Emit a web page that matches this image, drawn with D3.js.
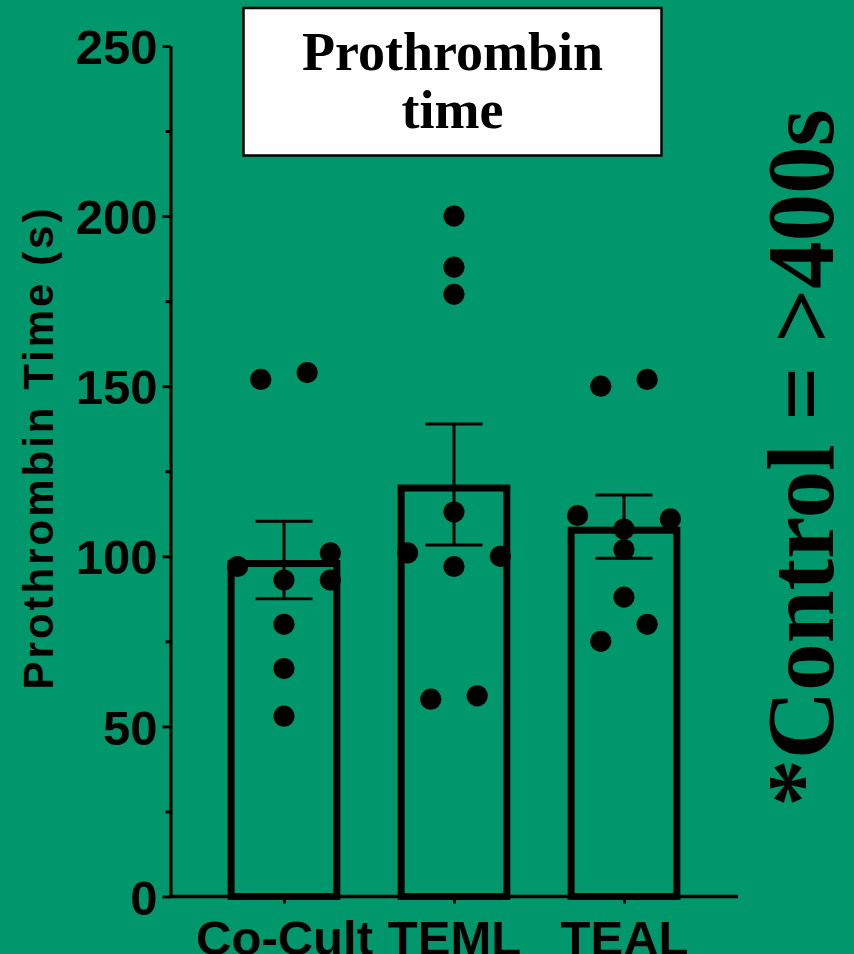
<!DOCTYPE html>
<html>
<head>
<meta charset="utf-8">
<script src="https://cdn.jsdelivr.net/npm/d3@7"></script>
<style>
  html, body { margin: 0; padding: 0; background: #00976c; }
  svg { display: block; }
</style>
</head>
<body>
<svg id="chart" width="854" height="954"></svg>
<script>
// ---- data ----
const categories = ["Co-Cult", "TEML", "TEAL"];
const coCultValues = [152, 154, 97, 101, 93, 93, 80, 67, 53];
const temlValues   = [200, 185, 177, 101, 113, 97, 100, 58, 59];
const tealValues   = [150, 152, 112, 111, 108, 102, 88, 80, 75];
// scatter lanes (GraphPad-style spreading of overlapping points)
const coCultLanes = [-1, 1, -2, 2, 0, 2, 0, 0, 0];
const temlLanes   = [0, 0, 0, -2, 0, 0, 2, -1, 1];
const tealLanes   = [-1, 1, -2, 2, 0, 0, 0, 1, -1];
const means = [98.9, 121.1, 108.7];
const sems  = [11.4, 17.8, 9.3];
const yMajorTicks = [0, 50, 100, 150, 200, 250];
const yMinorTicks = [25, 75, 125, 175, 225];
const titleLines = ["Prothrombin", "time"];
const yAxisTitle = "Prothrombin Time (s)";
const sideNote = "*Control = >400s";

const groups = [
  { name: categories[0], values: coCultValues, lanes: coCultLanes },
  { name: categories[1], values: temlValues,   lanes: temlLanes },
  { name: categories[2], values: tealValues,   lanes: tealLanes }
];

// ---- layout ----
const bg = "#00976c";
const svg = d3.select("#chart");
svg.append("rect").attr("width", 854).attr("height", 954).attr("fill", bg);

const axisX = 170.5;
const y = d3.scaleLinear().domain([0, 250]).range([896.5, 46]);
const x = d3.scalePoint().domain(categories).range([284, 624]);
const barW = 112.7;
const barStroke = 7;
const laneGap = 23.2;
const capW = 57;

// bars (stroke drawn inside)
svg.append("g").selectAll("rect").data(categories).join("rect")
  .attr("x", d => x(d) - barW / 2 + barStroke / 2)
  .attr("width", barW - barStroke)
  .attr("y", (d, i) => y(means[i]) + barStroke / 2)
  .attr("height", (d, i) => y(0) - y(means[i]) - barStroke / 2)
  .attr("fill", "none")
  .attr("stroke", "#000")
  .attr("stroke-width", barStroke);

// error bars
const eg = svg.append("g").attr("stroke", "#000").attr("stroke-width", 3);
categories.forEach((c, i) => {
  const cx = x(c);
  const top = y(means[i] + sems[i]), bot = y(means[i] - sems[i]);
  eg.append("line").attr("x1", cx).attr("x2", cx).attr("y1", top).attr("y2", bot);
  eg.append("line").attr("x1", cx - capW / 2).attr("x2", cx + capW / 2).attr("y1", top).attr("y2", top);
  eg.append("line").attr("x1", cx - capW / 2).attr("x2", cx + capW / 2).attr("y1", bot).attr("y2", bot);
});

// points
const pts = [];
groups.forEach(g => g.values.forEach((v, j) => pts.push({ c: g.name, v, lane: g.lanes[j] })));
svg.append("g").selectAll("circle").data(pts).join("circle")
  .attr("cx", d => x(d.c) + d.lane * laneGap)
  .attr("cy", d => y(d.v))
  .attr("r", 10.6)
  .attr("fill", "#000");

// y axis
const yAxisG = svg.append("g").attr("transform", `translate(${axisX},0)`)
  .call(d3.axisLeft(y).tickValues(yMajorTicks).tickSize(8).tickPadding(5).tickSizeOuter(0));
yAxisG.select(".domain").attr("stroke", "#000").attr("stroke-width", 3.2);
yAxisG.selectAll(".tick line").attr("stroke", "#000").attr("stroke-width", 3);
yAxisG.selectAll(".tick text")
  .attr("fill", "#000")
  .attr("font-family", "'Liberation Sans', Arial, sans-serif")
  .attr("font-weight", "bold")
  .attr("font-size", 49)
  .attr("dy", "0.36em");

const yMinorG = svg.append("g").attr("transform", `translate(${axisX},0)`)
  .call(d3.axisLeft(y).tickValues(yMinorTicks).tickSize(5).tickFormat("").tickSizeOuter(0));
yMinorG.select(".domain").remove();
yMinorG.selectAll(".tick line").attr("stroke", "#000").attr("stroke-width", 3);

// x axis
svg.append("line")
  .attr("x1", axisX - 1.6).attr("x2", 738)
  .attr("y1", y(0)).attr("y2", y(0))
  .attr("stroke", "#000").attr("stroke-width", 3.3);
const xAxisG = svg.append("g").attr("transform", `translate(0,${y(0)})`)
  .call(d3.axisBottom(x).tickSize(7).tickPadding(20).tickSizeOuter(0));
xAxisG.select(".domain").remove();
xAxisG.selectAll(".tick line").attr("stroke", "#000").attr("stroke-width", 3);
xAxisG.selectAll(".tick text")
  .attr("fill", "#000")
  .attr("font-family", "'Liberation Sans', Arial, sans-serif")
  .attr("font-weight", "bold")
  .attr("font-size", 49)
  .attr("dy", 0)
  .attr("y", 955 - 896.5);

// y axis title
svg.append("text")
  .attr("transform", "translate(53,447.5) rotate(-90)")
  .attr("text-anchor", "middle")
  .attr("font-family", "'Liberation Sans', Arial, sans-serif")
  .attr("font-weight", "bold")
  .attr("font-size", 42)
  .attr("letter-spacing", "3px")
  .attr("fill", "#000")
  .text(yAxisTitle);

// title box
svg.append("rect")
  .attr("x", 243.5).attr("y", 8).attr("width", 418).attr("height", 147.5)
  .attr("fill", "#fff").attr("stroke", "#000").attr("stroke-width", 2.5);
svg.append("g").selectAll("text").data(titleLines).join("text")
  .attr("x", 452.5)
  .attr("y", (d, i) => 70 + i * 58)
  .attr("text-anchor", "middle")
  .attr("font-family", "'Liberation Serif', 'Times New Roman', serif")
  .attr("font-weight", "bold")
  .attr("font-size", 54)
  .attr("fill", "#000")
  .text(d => d);

// side note
svg.append("text")
  .attr("transform", "translate(833,458) rotate(-90)")
  .attr("text-anchor", "middle")
  .attr("font-family", "'Liberation Serif', 'Times New Roman', serif")
  .attr("font-weight", "bold")
  .attr("font-size", 95)
  .attr("fill", "#000")
  .text(sideNote);
</script>
</body>
</html>
